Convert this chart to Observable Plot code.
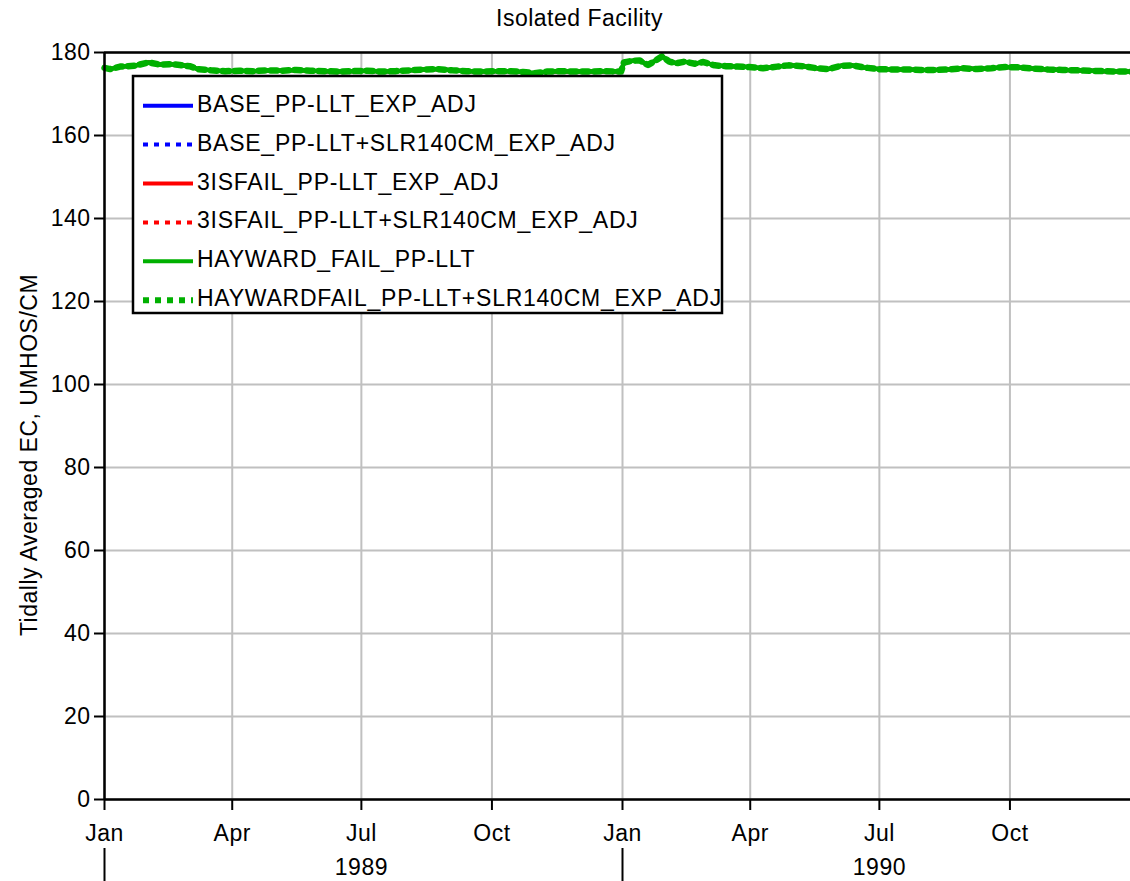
<!DOCTYPE html>
<html><head><meta charset="utf-8">
<script src="https://cdn.jsdelivr.net/npm/d3@7"></script>
<script src="https://cdn.jsdelivr.net/npm/@observablehq/plot@0.6"></script>
<style>
html,body{margin:0;padding:0;background:#fff;overflow:hidden;}
#chart svg{max-width:none;display:block;}
</style></head><body><div id="chart"></div>
<script>
const chartTitle = "Isolated Facility";
const yLabel = "Tidally Averaged EC, UMHOS/CM";
const seriesNames = [
  "BASE_PP-LLT_EXP_ADJ",
  "BASE_PP-LLT+SLR140CM_EXP_ADJ",
  "3ISFAIL_PP-LLT_EXP_ADJ",
  "3ISFAIL_PP-LLT+SLR140CM_EXP_ADJ",
  "HAYWARD_FAIL_PP-LLT",
  "HAYWARDFAIL_PP-LLT+SLR140CM_EXP_ADJ"
];
const dates = [
  "1989-01-01","1989-01-05","1989-01-12","1989-01-22","1989-02-01","1989-02-09","1989-02-16","1989-02-23",
  "1989-03-02","1989-03-08","1989-03-17","1989-03-27","1989-04-06","1989-04-16","1989-04-26","1989-05-06",
  "1989-05-16","1989-05-26","1989-06-05","1989-06-15","1989-06-25","1989-07-05","1989-07-15","1989-07-25",
  "1989-08-04","1989-08-14","1989-08-24","1989-09-03","1989-09-13","1989-09-23","1989-10-03","1989-10-13",
  "1989-10-23","1989-10-31","1989-11-09","1989-11-19","1989-11-29","1989-12-09","1989-12-19","1989-12-31",
  "1990-01-02","1990-01-08","1990-01-13","1990-01-19","1990-01-24","1990-01-29","1990-02-03","1990-02-08",
  "1990-02-14","1990-02-21","1990-02-27","1990-03-07","1990-03-15","1990-03-23","1990-03-31","1990-04-10",
  "1990-04-20","1990-04-28","1990-05-08","1990-05-18","1990-05-26","1990-06-04","1990-06-12","1990-06-20",
  "1990-06-30","1990-07-10","1990-07-20","1990-07-30","1990-08-09","1990-08-19","1990-08-29","1990-09-08",
  "1990-09-18","1990-09-28","1990-10-08","1990-10-18","1990-10-28","1990-11-07","1990-11-17","1990-11-27",
  "1990-12-07","1990-12-17","1990-12-31"
];
// All six scenarios plot on top of each other at this station
const ecValues = [
  176.3,176.0,176.6,176.8,177.6,177.1,177.2,177.0,
  176.7,176.0,175.7,175.5,175.6,175.5,175.7,175.6,
  175.8,175.6,175.5,175.4,175.5,175.6,175.4,175.5,
  175.7,175.9,176.0,175.7,175.5,175.4,175.5,175.5,
  175.3,175.0,175.4,175.5,175.4,175.4,175.5,175.4,
  177.6,178.0,178.1,177.0,178.0,179.1,177.8,177.4,
  177.8,177.3,177.7,176.9,176.7,176.6,176.5,176.2,
  176.6,176.9,176.7,176.2,176.0,176.8,176.9,176.4,
  176.0,175.9,175.9,175.8,175.8,175.9,176.2,176.0,
  176.2,176.5,176.4,176.1,175.9,175.8,175.7,175.6,
  175.5,175.4,175.4
];
const seriesValues = [ecValues, ecValues, ecValues, ecValues, ecValues, ecValues];
const yTicks = [0,20,40,60,80,100,120,140,160,180];
const xTickDates = ["1989-01-01","1989-04-01","1989-07-01","1989-10-01","1990-01-01","1990-04-01","1990-07-01","1990-10-01"];
const yearStarts = ["1989-01-01","1990-01-01"];
const yearMids = ["1989-07-01","1990-07-01"];

// styles
const seriesStyle = [
  {stroke:"#0000ff", dash:null, width:4},
  {stroke:"#0000ff", dash:"5,6", width:4},
  {stroke:"#ff0000", dash:null, width:4},
  {stroke:"#ff0000", dash:"5,6", width:4},
  {stroke:"#00b000", dash:null, width:4.5},
  {stroke:"#00b000", dash:"6,6", width:6.5}
];

const D = s => new Date(s + "T00:00:00Z");
const records = seriesNames.map((name, k) => dates.map((d, i) => ({series: name, date: D(d), value: seriesValues[k][i]})));

const font = "'Liberation Sans', Arial, sans-serif";
const fs = 23;

const chart = Plot.plot({
  width: 1130,
  height: 881,
  marginTop: 52,
  marginBottom: 82,
  marginLeft: 104,
  marginRight: 0,
  style: {fontFamily: font, fontSize: fs + "px", letterSpacing: "0.5px", overflow: "visible", color: "#000", background: "#fff"},
  x: {type: "utc", domain: [D("1989-01-01"), D("1991-01-01")], range: [104, 1140], label: null},
  y: {domain: [0, 180], range: [799, 52], label: null},
  marks: [
    Plot.gridX(xTickDates.map(D), {stroke: "#c0c0c0", strokeOpacity: 1, strokeWidth: 2}),
    Plot.gridY(yTicks, {stroke: "#c0c0c0", strokeOpacity: 1, strokeWidth: 2}),
    ...records.map((r, k) => Plot.line(r, {
      x: "date", y: "value",
      stroke: seriesStyle[k].stroke,
      strokeWidth: seriesStyle[k].width,
      strokeDasharray: seriesStyle[k].dash,
      strokeLinejoin: "round"
    })),
    Plot.ruleY([0], {stroke: "#000", strokeWidth: 2.5}),
    Plot.ruleY([180], {stroke: "#000", strokeWidth: 2.5}),
    Plot.ruleX([D("1989-01-01")], {stroke: "#000", strokeWidth: 2.5}),
    Plot.axisY(yTicks, {tickSize: 10, tickPadding: 4, fontSize: fs, strokeWidth: 2, label: null}),
    Plot.axisX(xTickDates.map(D), {tickSize: 11, tickPadding: 14, tickFormat: d3.utcFormat("%b"), fontSize: fs, strokeWidth: 2, label: null}),
    Plot.axisX(yearStarts.map(D), {tickSize: 33, dy: 49, tickFormat: () => "", strokeWidth: 2, label: null}),
    Plot.axisX(yearMids.map(D), {tickSize: 0, tickPadding: 59, tickFormat: d3.utcFormat("%Y"), fontSize: fs, label: null}),
    Plot.text([chartTitle], {text: d => d, frameAnchor: "top", dy: -34, dx: -38, fontSize: fs, lineAnchor: "middle"}),
    Plot.text([yLabel], {text: d => d, frameAnchor: "left", rotate: -90, dx: -75, dy: 29, fontSize: fs, lineAnchor: "middle", textAnchor: "middle"})
  ]
});

document.getElementById("chart").appendChild(chart);

// legend box
const svg = d3.select(chart);
const lg = svg.append("g").attr("font-family", font).attr("font-size", fs)
  .attr("letter-spacing", "0.75px").attr("text-anchor", "start");
lg.append("rect").attr("x", 133).attr("y", 76).attr("width", 589).attr("height", 237)
  .attr("fill", "#fff").attr("stroke", "#000").attr("stroke-width", 2.5);
seriesNames.forEach((name, i) => {
  const yy = 105.7 + i * 38.9;
  const st = seriesStyle[i];
  lg.append("line").attr("x1", 143).attr("x2", 193).attr("y1", yy).attr("y2", yy)
    .attr("stroke", st.stroke).attr("stroke-width", i === 5 ? 6 : 4)
    .attr("stroke-dasharray", st.dash);
  lg.append("text").attr("x", 197).attr("y", yy + 6).attr("fill", "#000")
    .attr("text-anchor", "start").text(name);
});
</script></body></html>
